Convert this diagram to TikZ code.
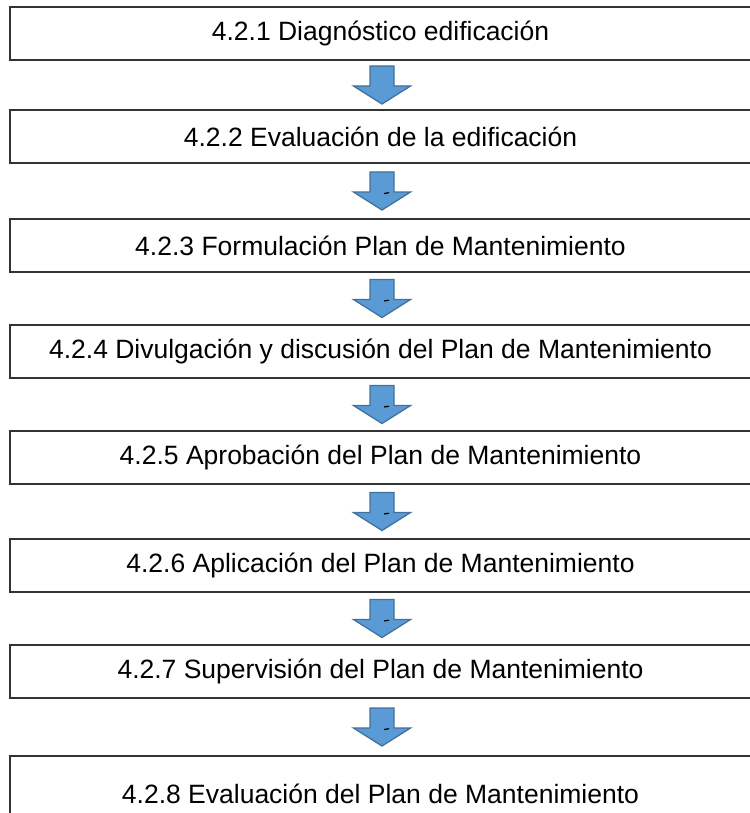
\documentclass[tikz,border=0pt]{standalone}
\usepackage{fontspec}
\setmainfont{Liberation Sans}
\usetikzlibrary{calc}
\definecolor{arrowFill}{HTML}{5B9BD5}
\definecolor{arrowLine}{HTML}{41719C}
\tikzstyle{stageBox}=[draw=black!80,line width=1.4pt,minimum width=741pt,inner sep=0pt,font=\fontsize{26.5}{30}\selectfont]
\tikzstyle{stageArrow}=[fill=arrowFill,draw=arrowLine,line width=1.3pt,line join=miter]

\begin{document}
\begin{tikzpicture}[x=1pt,y=-1pt]
\useasboundingbox (0,0) rectangle (749,813);
\newcommand{\boxX}{380.5}
        % stages, top to bottom
        \foreach \y/\h/\txt [count=\i] in {
                33.5/53/{4.2.1 Diagnóstico edificación},
                136.5/53/{4.2.2 Evaluación de la edificación},
                245.5/53/{4.2.3 Formulación Plan de Mantenimiento},
                351.5/53/{4.2.4 Divulgación y discusión del Plan de Mantenimiento},
                457.5/53/{4.2.5 Aprobación del Plan de Mantenimiento},
                565.5/53/{4.2.6 Aplicación del Plan de Mantenimiento},
                671.5/53/{4.2.7 Supervisión del Plan de Mantenimiento},
                793.5/75/{4.2.8 Evaluación del Plan de Mantenimiento}} {
                \node[stageBox,minimum height=\h pt] 
                (b\i) at (\boxX,\y) 
                {\txt};
        }
        % block arrows between stages
        \foreach \i [evaluate=\i as \j using int(\i+1)] in {1,...,7} {
                \coordinate (m\i) 
                at ($(b\i.south)!0.5!(b\j.north)+(1.5,0)$);
                \draw[stageArrow,shift={(m\i)}] 
                (-12,-19) -- (12,-19) -- (12,1) -- (28.5,1) 
                -- (0,19) -- (-28.5,1) -- (-12,1) -- cycle;
        }
        \foreach \i in {2,...,7} {
                \draw[line width=1.2pt] 
                ($(m\i)+(2,2.5)$) -- ++(5,-0.8);
        }
\end{tikzpicture}
\end{document}
